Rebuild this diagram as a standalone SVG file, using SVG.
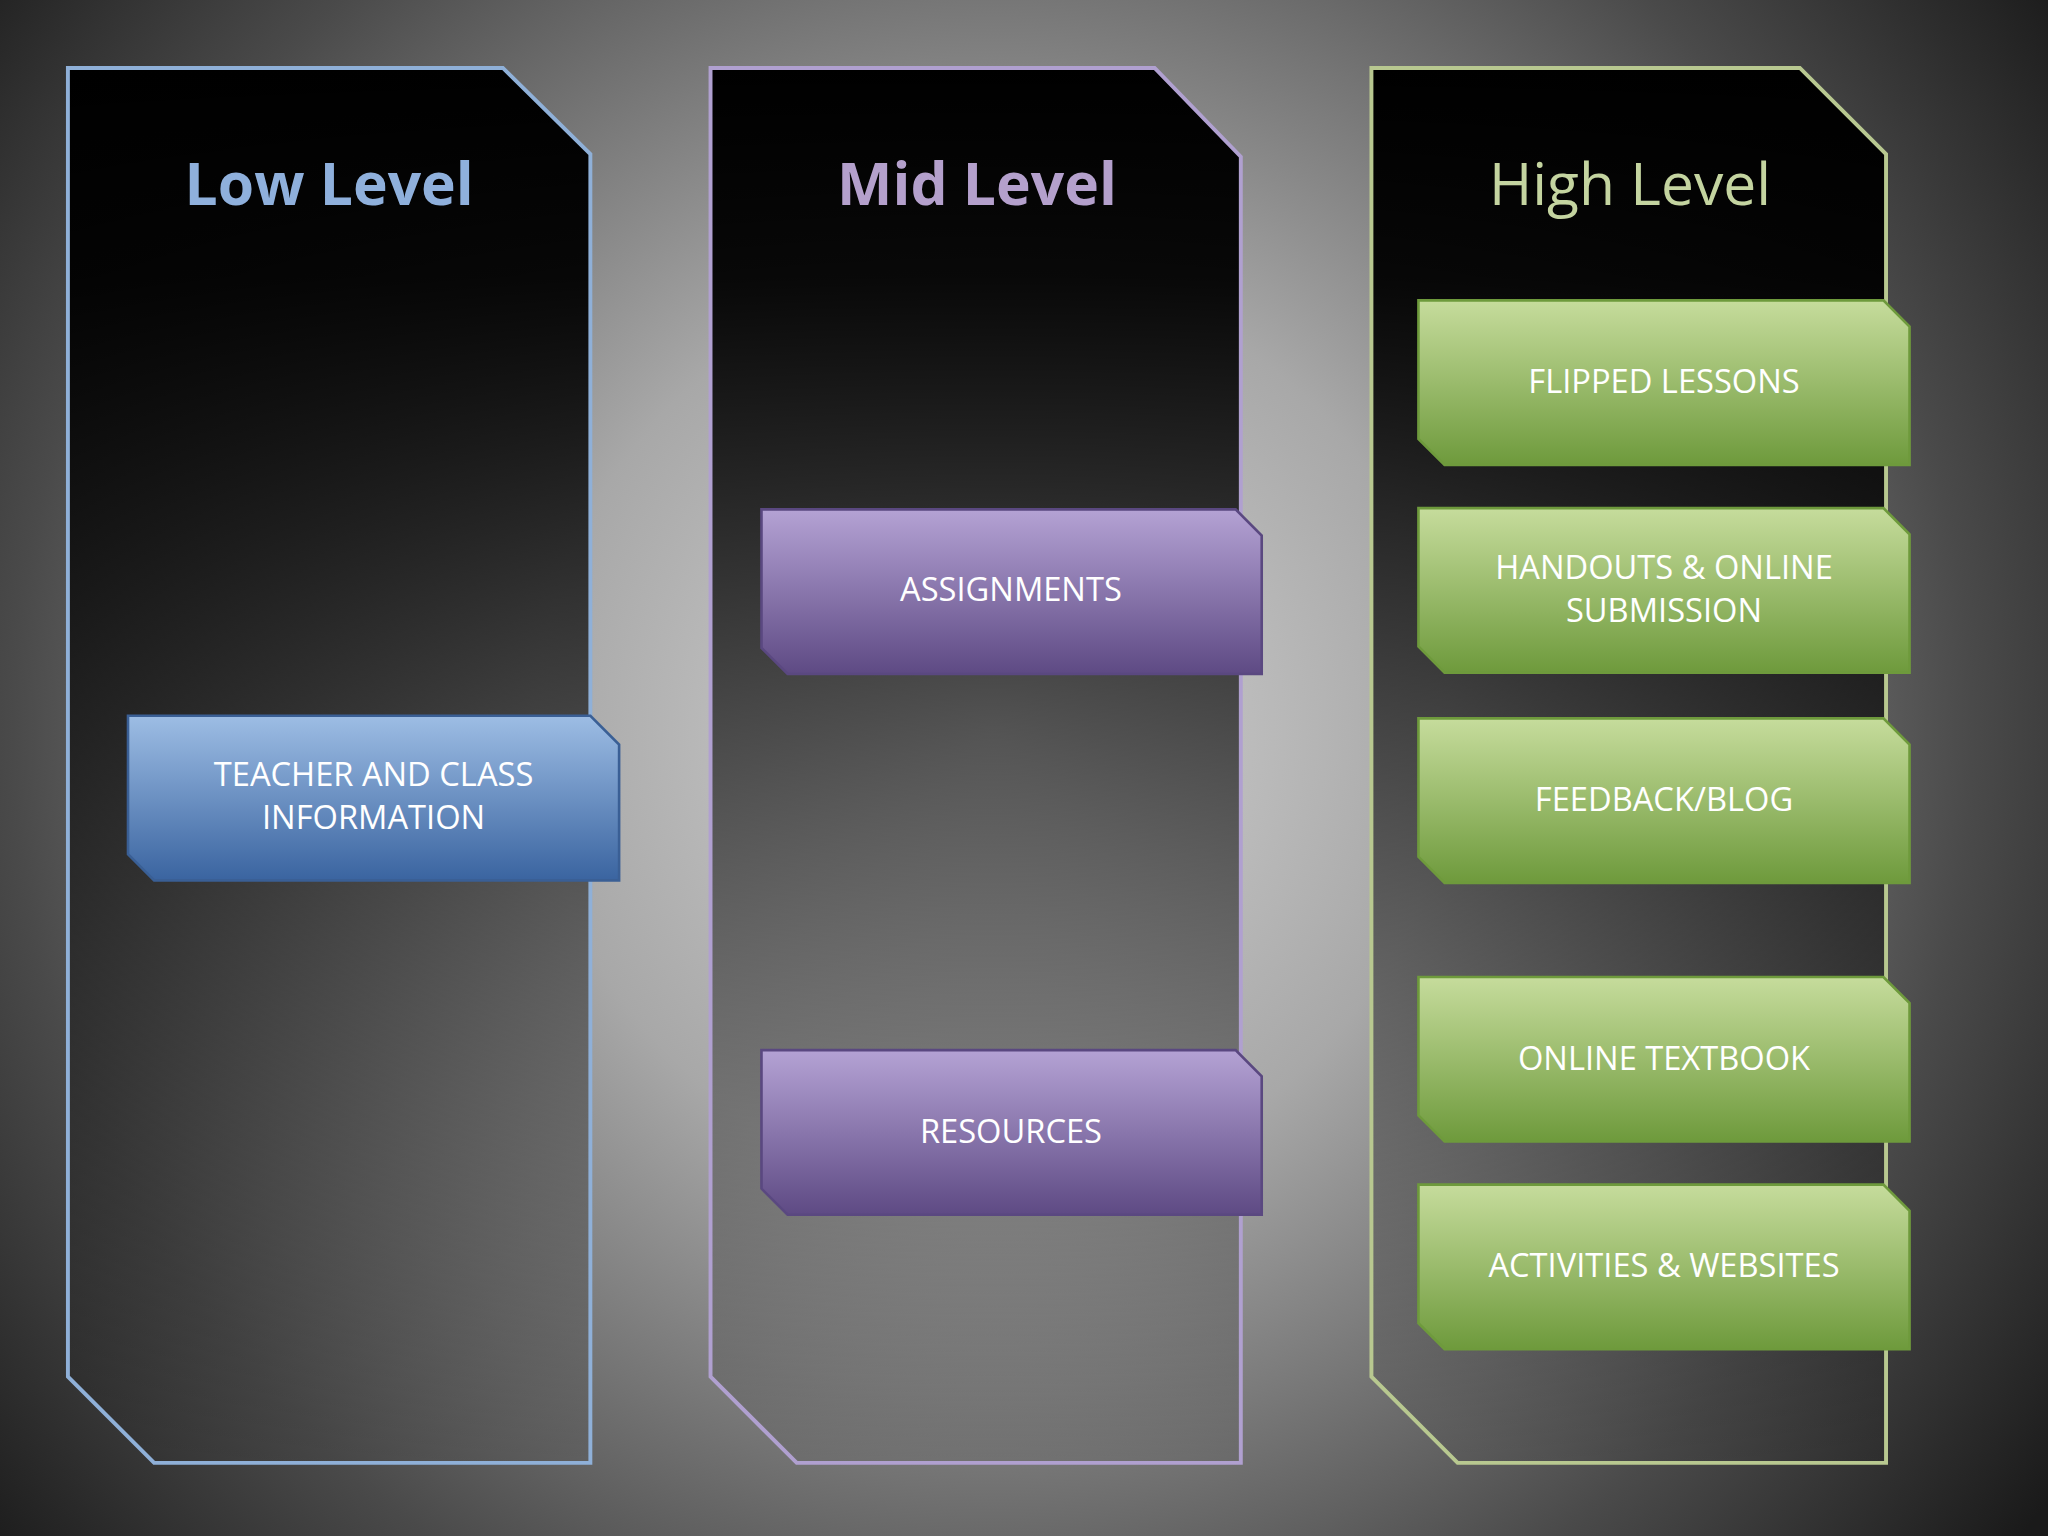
<svg xmlns="http://www.w3.org/2000/svg" width="2048" height="1536" viewBox="0 0 2048 1536">
<defs>
<radialGradient id="bg" cx="760" cy="560" r="1000" gradientUnits="userSpaceOnUse" gradientTransform="translate(993 731.5) scale(1.306) translate(-760 -560)">
<stop offset="0" stop-color="#d4d4d4"/><stop offset="0.35" stop-color="#a8a8a8"/><stop offset="0.75" stop-color="#4a4a4a"/><stop offset="1" stop-color="#1a1a1a"/>
</radialGradient>
<linearGradient id="col" x1="0" y1="0" x2="0" y2="1">
<stop offset="0" stop-color="#000"/><stop offset="0.15" stop-color="#000" stop-opacity="0.95"/><stop offset="1" stop-color="#000" stop-opacity="0.05"/>
</linearGradient>
<linearGradient id="blue" x1="0" y1="0" x2="0" y2="1"><stop offset="0" stop-color="#9dbde4"/><stop offset="1" stop-color="#3a64a0"/></linearGradient>
<linearGradient id="purple" x1="0" y1="0" x2="0" y2="1"><stop offset="0" stop-color="#b4a2d4"/><stop offset="1" stop-color="#5e4a84"/></linearGradient>
<linearGradient id="green" x1="0" y1="0" x2="0" y2="1"><stop offset="0" stop-color="#c6dc9c"/><stop offset="1" stop-color="#6e9a3c"/></linearGradient>
</defs>
<style>
.t{font-family:"Open Sans","DejaVu Sans",sans-serif;font-size:25px;fill:#fff;text-anchor:middle}
.h{font-family:"Open Sans","DejaVu Sans",sans-serif;font-size:45px;text-anchor:middle}
.col{fill:url(#col);stroke-width:3}
</style>
<rect width="2048" height="1536" fill="url(#bg)"/>
<g transform="scale(1.30612)">
<g id="col-low"><polygon class="col" stroke="#8fb0d8" points="52,52 385,52 452,118 452,1120 118,1120 52,1054"/><text class="h" x="252" y="157" fill="#8fb0dc" font-weight="bold">Low Level</text></g>
<g id="col-mid"><polygon class="col" stroke="#b0a0d0" points="544,52 884,52 950,120 950,1120 610,1120 544,1054"/><text class="h" x="748" y="157" fill="#b4a0cc" font-weight="bold">Mid Level</text></g>
<g id="col-high"><polygon class="col" stroke="#b8c890" points="1050,52 1378,52 1444,118 1444,1120 1116,1120 1050,1054"/><text class="h" x="1248" y="157" fill="#c4d4a0">High Level</text></g>
<g id="connectors"></g>
<g id="n-teacher"><polygon fill="url(#blue)" stroke="#3a5f95" stroke-width="2" points="98,548 452,548 474,570 474,674 118,674 98,654"/><text class="t" x="286" y="602">TEACHER AND CLASS</text><text class="t" x="286" y="635">INFORMATION</text></g>
<g id="n-assign"><polygon fill="url(#purple)" stroke="#5a4880" stroke-width="2" points="583,390 946,390 966,410 966,516 603,516 583,496"/><text class="t" x="774" y="460">ASSIGNMENTS</text></g>
<g id="n-res"><polygon fill="url(#purple)" stroke="#5a4880" stroke-width="2" points="583,804 946,804 966,824 966,930 603,930 583,910"/><text class="t" x="774" y="875">RESOURCES</text></g>
<g id="n-flip"><polygon fill="url(#green)" stroke="#6e9a3c" stroke-width="2" points="1086,230 1442,230 1462,250 1462,356 1106,356 1086,336"/><text class="t" x="1274" y="301">FLIPPED LESSONS</text></g>
<g id="n-hand"><polygon fill="url(#green)" stroke="#6e9a3c" stroke-width="2" points="1086,389 1442,389 1462,409 1462,515 1106,515 1086,495"/><text class="t" x="1274" y="443">HANDOUTS &amp; ONLINE</text><text class="t" x="1274" y="476">SUBMISSION</text></g>
<g id="n-feed"><polygon fill="url(#green)" stroke="#6e9a3c" stroke-width="2" points="1086,550 1442,550 1462,570 1462,676 1106,676 1086,656"/><text class="t" x="1274" y="621">FEEDBACK/BLOG</text></g>
<g id="n-text"><polygon fill="url(#green)" stroke="#6e9a3c" stroke-width="2" points="1086,748 1442,748 1462,768 1462,874 1106,874 1086,854"/><text class="t" x="1274" y="819">ONLINE TEXTBOOK</text></g>
<g id="n-act"><polygon fill="url(#green)" stroke="#6e9a3c" stroke-width="2" points="1086,907 1442,907 1462,927 1462,1033 1106,1033 1086,1013"/><text class="t" x="1274" y="978">ACTIVITIES &amp; WEBSITES</text></g>
</g>
</svg>
